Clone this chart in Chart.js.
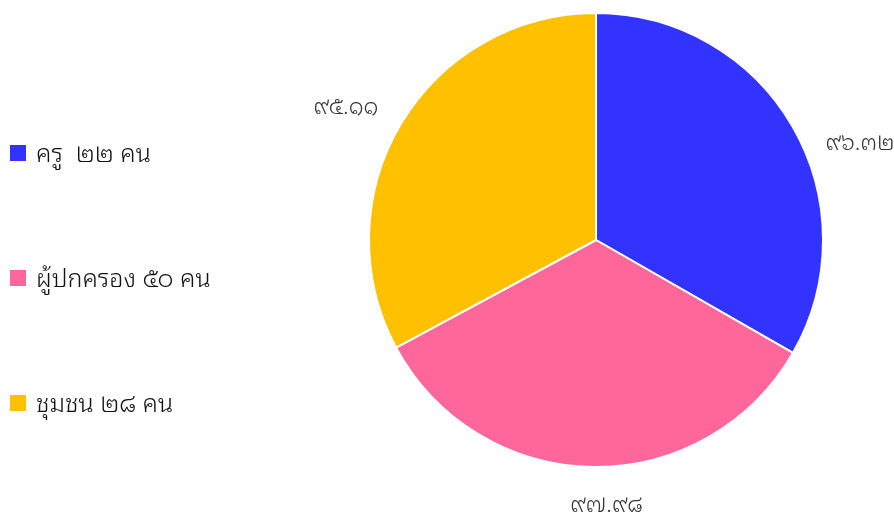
<!DOCTYPE html>
<html>
<head>
<meta charset="utf-8">
<script src="https://cdn.jsdelivr.net/npm/chart.js@4/dist/chart.umd.min.js"></script>
<style>
  html, body { margin: 0; padding: 0; background: #ffffff; }
  #wrap { position: relative; width: 894px; height: 518px; }
</style>
</head>
<body>
<div id="wrap"><canvas id="pie-chart"></canvas></div>
<script>
// Chart data
const groupLabels = ['ครู  ๒๒ คน', 'ผู้ปกครอง ๕๐ คน', 'ชุมชน ๒๘ คน'];
const scoreValues = [96.32, 97.98, 95.11];
const scoreTexts = ['๙๖.๓๒', '๙๗.๙๘', '๙๕.๑๑'];

const sliceColors = ['#3333ff', '#ff6699', '#ffc000'];
const fontFamily = '"Noto Sans Thai Looped", "Noto Sans Thai", Loma, Garuda, "Noto Sans", "DejaVu Sans", sans-serif';

// Draws the value labels outside each slice
const outsideLabels = {
  id: 'outsideLabels',
  afterDatasetsDraw(c, args, options) {
    const ctx = c.ctx;
    const meta = c.getDatasetMeta(0);
    ctx.save();
    ctx.font = `300 ${options.size}px ${fontFamily}`;
    ctx.fillStyle = options.color;
    ctx.textAlign = 'center';
    ctx.textBaseline = 'middle';
    meta.data.forEach((arc, i) => {
      const p = arc.getProps(['x', 'y', 'startAngle', 'endAngle', 'outerRadius'], true);
      const mid = (p.startAngle + p.endAngle) / 2 + (options.shift[i] || 0) * Math.PI / 180;
      const r = p.outerRadius + options.distance[i];
      ctx.fillText(options.texts[i], p.x + Math.cos(mid) * r, p.y + Math.sin(mid) * r);
    });
    ctx.restore();
  },
};

// Legend drawn on the left side of the canvas
const sideLegend = {
  id: 'sideLegend',
  afterDraw(c, args, options) {
    const ctx = c.ctx;
    ctx.save();
    ctx.font = `300 ${options.size}px ${fontFamily}`;
    ctx.textBaseline = 'middle';
    ctx.textAlign = 'left';
    c.data.labels.forEach((label, i) => {
      const y = options.top + i * options.gap;
      ctx.fillStyle = c.data.datasets[0].backgroundColor[i];
      ctx.fillRect(options.left, y - 8, 16, 16);
      ctx.fillStyle = '#111111';
      ctx.fillText(label, options.left + 26, y + 2);
    });
    ctx.restore();
  },
};

new Chart(document.getElementById('pie-chart'), {
  type: 'pie',
  data: {
    labels: groupLabels,
    datasets: [{
      data: scoreValues,
      backgroundColor: sliceColors,
      borderColor: '#ffffff',
      borderWidth: 2,
    }],
  },
  options: {
    responsive: true,
    maintainAspectRatio: false,
    animation: false,
    layout: {
      padding: { top: 12, bottom: 50, left: 368, right: 70 },
    },
    plugins: {
      legend: { display: false },
      tooltip: { enabled: false },
      outsideLabels: {
        texts: scoreTexts,
        size: 23,
        color: '#333333',
        distance: [54, 39, 56],
        shift: [10, -3, -3],
      },
      sideLegend: {
        left: 10,
        top: 153,
        gap: 125,
        size: 25,
      },
    },
  },
  plugins: [outsideLabels, sideLegend],
});
</script>
</body>
</html>
